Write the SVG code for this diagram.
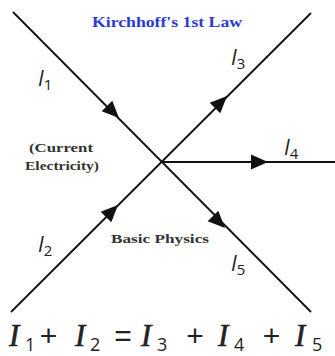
<svg xmlns="http://www.w3.org/2000/svg" width="335" height="356" viewBox="0 0 335 356">
<style>
.w{stroke:#111;stroke-width:1.8;fill:none}
.arr{fill:#111}
.lbl{font-family:"Open Sans","Liberation Sans",Arial,sans-serif;font-style:italic;fill:#222}
.sub{font-family:"Open Sans","Liberation Sans",Arial,sans-serif;font-style:normal;fill:#222}
.eqI{font-family:"Liberation Serif","Times New Roman",serif;font-style:italic;fill:#222;stroke:#222;stroke-width:0.6}
.note{font-family:"Liberation Serif","Times New Roman",serif;font-weight:bold;fill:#333}
.title{font-family:"Liberation Serif","Times New Roman",serif;font-weight:bold;fill:#2b3bd6}
.op{font-family:"Liberation Sans",Arial,sans-serif;fill:#222}
</style>
<defs>
<polygon id="ah" points="0,0 -17,-7.5 -17,7.5" class="arr"/>
</defs>
<rect width="335" height="356" fill="#fff"/>
<g id="connectors">
<line class="w" x1="13" y1="12" x2="311" y2="312"/>
<line class="w" x1="311" y1="13" x2="11" y2="312"/>
<line class="w" x1="162" y1="162" x2="335" y2="162"/>
<use href="#ah" transform="translate(119,118) rotate(45)"/>
<use href="#ah" transform="translate(227,96) rotate(-45)"/>
<use href="#ah" transform="translate(268,162)"/>
<use href="#ah" transform="translate(225,228) rotate(45)"/>
<use href="#ah" transform="translate(118,205) rotate(-45)"/>
</g>
<g id="title"><text class="title" x="167" y="27" font-size="14" text-anchor="middle" textLength="150" lengthAdjust="spacingAndGlyphs">Kirchhoff's 1st Law</text></g>
<g id="I1"><text class="lbl" x="38" y="86" font-size="21">I<tspan class="sub" font-size="15" dy="4">1</tspan></text></g>
<g id="I3"><text class="lbl" x="231" y="65" font-size="21">I<tspan class="sub" font-size="15" dy="4">3</tspan></text></g>
<g id="I4"><text class="lbl" x="284" y="155" font-size="21">I<tspan class="sub" font-size="15" dy="4">4</tspan></text></g>
<g id="I2"><text class="lbl" x="38" y="252" font-size="21">I<tspan class="sub" font-size="15" dy="4">2</tspan></text></g>
<g id="I5"><text class="lbl" x="231" y="271" font-size="21">I<tspan class="sub" font-size="15" dy="4">5</tspan></text></g>
<g id="note1"><text class="note" x="61" y="152" font-size="12" text-anchor="middle" textLength="64" lengthAdjust="spacingAndGlyphs">(Current</text><text class="note" x="62" y="170" font-size="12" text-anchor="middle" textLength="74" lengthAdjust="spacingAndGlyphs">Electricity)</text></g>
<g id="note2"><text class="note" x="160" y="243" font-size="13" text-anchor="middle" textLength="98" lengthAdjust="spacingAndGlyphs">Basic Physics</text></g>
<g id="equation">
<text class="eqI" x="9" y="346" font-size="31">I</text><text class="sub" x="25" y="351" font-size="18">1</text>
<text class="op" x="48.5" y="346" font-size="30" text-anchor="middle">+</text>
<text class="eqI" x="75" y="346" font-size="31">I</text><text class="sub" x="90" y="351" font-size="18">2</text>
<text class="op" x="123" y="346" font-size="30" text-anchor="middle">=</text>
<text class="eqI" x="141" y="346" font-size="31">I</text><text class="sub" x="157" y="351" font-size="18">3</text>
<text class="op" x="195" y="346" font-size="30" text-anchor="middle">+</text>
<text class="eqI" x="218" y="346" font-size="31">I</text><text class="sub" x="234" y="351" font-size="18">4</text>
<text class="op" x="271.5" y="346" font-size="30" text-anchor="middle">+</text>
<text class="eqI" x="295" y="346" font-size="31">I</text><text class="sub" x="312" y="351" font-size="18">5</text>
</g>
</svg>
